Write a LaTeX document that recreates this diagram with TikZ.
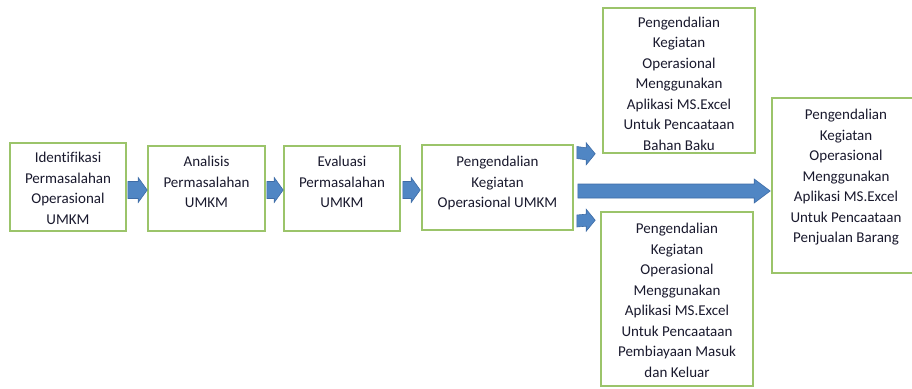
\documentclass[tikz,border=0pt]{standalone}
\usepackage{xcolor}
\usepackage{fontspec}
\setmainfont{Carlito}[Ligatures=NoCommon]
\usepackage{tikz}
\usetikzlibrary{positioning, calc}
\definecolor{boxgreen}{RGB}{155,196,106}
\definecolor{arrfill}{RGB}{80,134,196}
\definecolor{arrline}{RGB}{62,108,166}
\definecolor{txtdark}{RGB}{25,25,45}
\tikzstyle{box} = [rectangle, draw=boxgreen, line width=1.6pt, align=center, text=txtdark, inner sep=2pt, font=\fontsize{15}{20.5}\selectfont]
\tikzstyle{blk} = [fill=arrfill, draw=arrline, line width=0.6pt, line join=miter]
% block arrow: start, tip, shaft half width, head half width, head length
\newcommand{\blockarrow}[5]{%
  \draw[blk] ($(#1)+(0,#3)$) -- ($(#2)+(-#5,#3)$) -- ($(#2)+(-#5,#4)$) -- (#2)
    -- ($(#2)+(-#5,-#4)$) -- ($(#2)+(-#5,-#3)$) -- ($(#1)+(0,-#3)$) -- cycle;}

\begin{document}
\begin{tikzpicture}[x=1pt, y=-1pt]
	\useasboundingbox (0,0) rectangle (912,388);
		\node[box, minimum width=116pt, minimum height=88pt, text height=79pt, text depth=5pt] (idf) at (68,187)
			{Identifikasi\\ Permasalahan\\ Operasional\\ UMKM};
		\node[box, minimum width=117pt, minimum height=85pt, text height=59.5pt, text depth=21.5pt] (ana) at (206.5,188.5)
			{Analisis\\ Permasalahan\\ UMKM};
		\node[box, minimum width=116pt, minimum height=85pt, text height=59.5pt, text depth=21.5pt] (eva) at (342,188.5)
			{Evaluasi\\ Permasalahan\\ UMKM};
		\node[box, minimum width=151pt, minimum height=85pt, text height=60.5pt, text depth=20.5pt] (pen) at (497.5,187.5)
			{Pengendalian\\ Kegiatan\\ Operasional UMKM};
		\node[box, minimum width=152pt, minimum height=145pt, text height=140pt, text depth=1pt] (bhn) at (679,80.5)
			{Pengendalian\\ Kegiatan\\ Operasional\\ Menggunakan\\ Aplikasi MS.Excel\\ Untuk Pencaataan\\ Bahan Baku};
		\node[box, minimum width=152pt, minimum height=174pt, text height=163pt, text depth=7pt] (biy) at (677,299)
			{Pengendalian\\ Kegiatan\\ Operasional\\ Menggunakan\\ Aplikasi MS.Excel\\ Untuk Pencaataan\\ Pembiayaan Masuk\\ dan Keluar};
		\node[box, minimum width=148pt, minimum height=175pt, text height=142.5pt, text depth=28.5pt] (jual) at (846,185.5)
			{Pengendalian\\ Kegiatan\\ Operasional\\ Menggunakan\\ Aplikasi MS.Excel\\ Untuk Pencaataan\\ Penjualan Barang};

		% arrows between the steps
		\blockarrow{$(idf.east)+(1,3)$}{$(ana.west)+(0,1.5)$}{8.5}{12.5}{9}
		\blockarrow{$(ana.east)+(1,1.5)$}{$(eva.west)+(0,1.5)$}{8.5}{12.5}{9}
		\blockarrow{$(eva.east)+(2,1.5)$}{$(pen.west)+(-1,2.5)$}{8.5}{12.5}{9}
		\blockarrow{$(pen.east)+(3,-35)$}{$(bhn.south west)+(-7,0)$}{6}{11}{9}
		\blockarrow{$(pen.east)+(3,33.5)$}{$(biy.north west)+(-5,9)$}{6}{11}{9}
		\blockarrow{$(pen.east)+(4,3.5)$}{$(jual.west)+(-1,5.5)$}{7}{12}{16}
	\end{tikzpicture}
\end{document}
